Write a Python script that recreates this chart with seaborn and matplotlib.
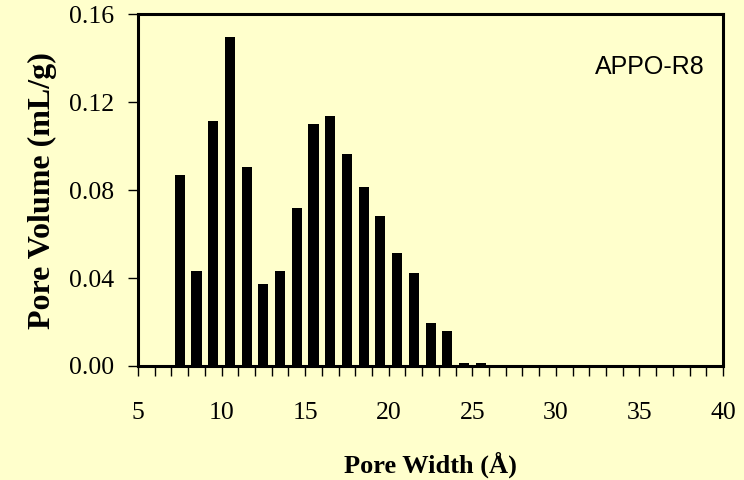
import numpy as np
import pandas as pd
import matplotlib
matplotlib.use("Agg")
import matplotlib.pyplot as plt
import seaborn as sns
from matplotlib.ticker import MultipleLocator, FormatStrFormatter

# pore size distribution (bar centres between integer ticks)
pore_width = [7.5, 8.5, 9.5, 10.5, 11.5, 12.5, 13.5, 14.5, 15.5, 16.5,
              17.5, 18.5, 19.5, 20.5, 21.5, 22.5, 23.5, 24.5, 25.5]
pore_volume = [0.0868, 0.0434, 0.1117, 0.1498, 0.0905, 0.0372, 0.0434, 0.0718, 0.1099, 0.1136,
               0.0967, 0.0814, 0.0682, 0.0513, 0.0425, 0.0194, 0.0158, 0.0012, 0.0012]
x_ticks = [5, 10, 15, 20, 25, 30, 35, 40]
y_ticks = [0.0, 0.04, 0.08, 0.12, 0.16]
sample_name = "APPO-R8"

bg = "#FFFFCC"
df = pd.DataFrame({"width": pore_width, "volume": pore_volume})

sns.set_style("ticks")
plt.rcParams["font.family"] = ["Liberation Serif", "DejaVu Serif"]
plt.rcParams["text.color"] = "black"
plt.rcParams["axes.labelcolor"] = "black"

fig = plt.figure(figsize=(7.44, 4.8), dpi=100, facecolor=bg)
ax = fig.add_axes([0.1855, 0.2375, 0.7863, 0.7325])
ax.set_facecolor(bg)

sns.barplot(data=df, x="width", y="volume", native_scale=True, width=0.6,
            color="black", edgecolor="black", linewidth=0, ax=ax)

ax.set_xlim(5, 40)
ax.set_ylim(0, 0.16)
ax.set_xticks(x_ticks)
ax.xaxis.set_minor_locator(MultipleLocator(1))
ax.set_yticks(y_ticks)
ax.yaxis.set_major_formatter(FormatStrFormatter("%.2f"))

for side in ["left", "right", "top", "bottom"]:
    ax.spines[side].set_visible(True)
    ax.spines[side].set_linewidth(2.2)
    ax.spines[side].set_color("black")

ax.tick_params(axis="x", which="both", direction="out", length=7, width=1, pad=19,
               labelsize=18.5, colors="black")
ax.tick_params(axis="y", which="major", direction="out", length=7, width=1, pad=10,
               labelsize=18.5, colors="black")

ax.set_xlabel("Pore Width (Å)", fontsize=19, fontweight="bold", labelpad=20)
ax.set_ylabel("Pore Volume (mL/g)", fontsize=23, fontweight="bold", labelpad=9)

ax.text(0.969, 0.85, sample_name, transform=ax.transAxes, ha="right", va="center",
        fontsize=18, family=["Liberation Sans", "DejaVu Sans"])

fig.savefig("out.png", dpi=100, facecolor=bg)
